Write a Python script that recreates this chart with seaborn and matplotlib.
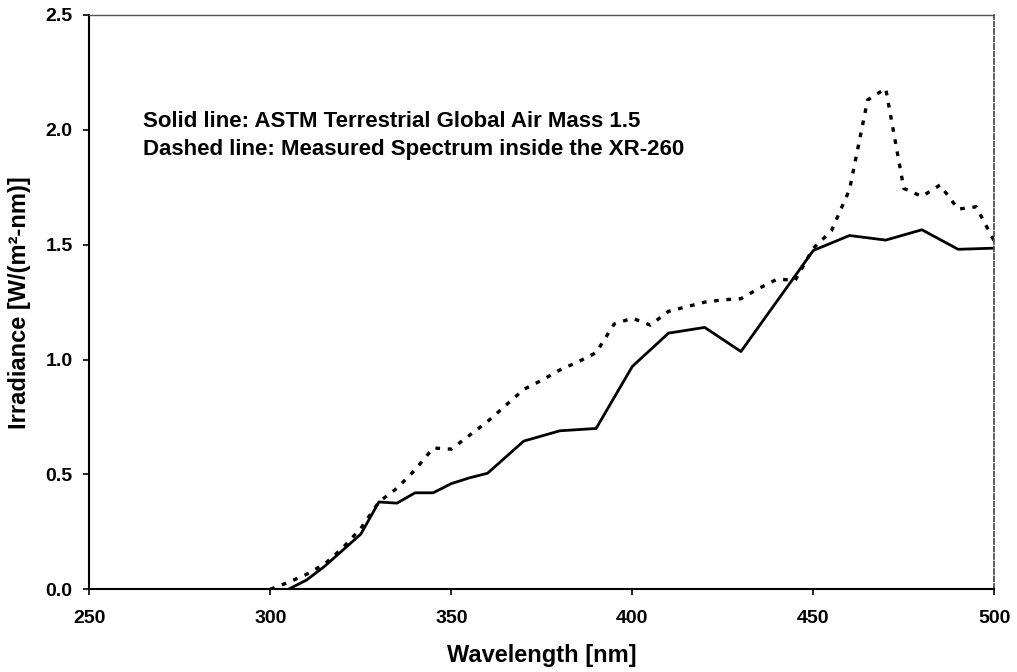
import numpy as np
import pandas as pd
import matplotlib
matplotlib.use("Agg")
import matplotlib.pyplot as plt
import seaborn as sns

# ASTM Terrestrial Global Air Mass 1.5 (solid)
astm_wl = [305, 310, 315, 320, 325, 330, 335, 340, 345, 350, 355, 360, 370, 380,
           390, 400, 410, 420, 430, 450, 460, 470, 480, 490, 500]
astm_val = [0.0, 0.04, 0.10, 0.17, 0.24, 0.38, 0.375, 0.42, 0.42, 0.46, 0.485, 0.505,
            0.645, 0.69, 0.70, 0.97, 1.115, 1.14, 1.035, 1.475, 1.54, 1.52, 1.565,
            1.48, 1.485]

# Measured spectrum inside the XR-260 (dashed)
meas_wl = [300, 305, 310, 315, 320, 325, 330, 335, 340, 345, 350, 355, 360, 365,
           370, 375, 380, 385, 390, 395, 400, 405, 410, 415, 420, 425, 430, 435,
           440, 445, 450, 455, 460, 465, 470, 475, 480, 485, 490, 495, 500]
meas_val = [0.0, 0.03, 0.065, 0.11, 0.18, 0.265, 0.38, 0.44, 0.52, 0.615, 0.61,
            0.67, 0.73, 0.80, 0.87, 0.91, 0.955, 0.99, 1.03, 1.155, 1.18, 1.15,
            1.21, 1.23, 1.25, 1.26, 1.265, 1.31, 1.35, 1.345, 1.485, 1.56, 1.74,
            2.13, 2.18, 1.745, 1.71, 1.76, 1.655, 1.665, 1.515]

x_ticks = [250, 300, 350, 400, 450, 500]
y_ticks = [0.0, 0.5, 1.0, 1.5, 2.0, 2.5]
y_ticklabels = ["0.0", "0.5", "1.0", "1.5", "2.0", "2.5"]

sns.set_style("ticks")
plt.rcParams['font.family'] = ['Liberation Sans', 'DejaVu Sans']
plt.rcParams['font.weight'] = 'bold'
plt.rcParams['text.color'] = 'black'
plt.rcParams['axes.labelcolor'] = 'black'
plt.rcParams['xtick.color'] = 'black'
plt.rcParams['ytick.color'] = 'black'

fig = plt.figure(figsize=(10.17, 6.72), dpi=100)
ax = fig.add_axes([0.0878, 0.1231, 0.8899, 0.8546])

df_astm = pd.DataFrame({"wl": astm_wl, "val": astm_val})
df_meas = pd.DataFrame({"wl": meas_wl, "val": meas_val})

sns.lineplot(data=df_astm, x="wl", y="val", ax=ax, color="black", linewidth=2.0)
sns.lineplot(data=df_meas, x="wl", y="val", ax=ax, color="black", linewidth=2.4,
             linestyle=(0, (1.4, 2.3)))

ax.set_xlim(250, 500)
ax.set_ylim(0, 2.5)
ax.set_xticks(x_ticks)
ax.set_xticklabels([str(t) for t in x_ticks])
ax.set_yticks(y_ticks)
ax.set_yticklabels(y_ticklabels)
ax.tick_params(axis='both', direction='out', length=4, width=1.2, labelsize=14,
               colors='black')
ax.tick_params(axis='x', pad=11)
ax.tick_params(axis='y', pad=8)
for lab in ax.get_xticklabels() + ax.get_yticklabels():
    lab.set_fontweight('bold')

ax.set_xlabel("Wavelength [nm]", fontsize=17, fontweight='bold', labelpad=12,
              color='black')
ax.set_ylabel("Irradiance [W/(m²-nm)]", fontsize=17, fontweight='bold', labelpad=10,
              color='black')

for side in ['left', 'bottom']:
    ax.spines[side].set_color('black')
    ax.spines[side].set_linewidth(1.5)
ax.spines['top'].set_visible(True)
ax.spines['top'].set_color('#555555')
ax.spines['top'].set_linewidth(1.0)
ax.spines['right'].set_visible(True)
ax.spines['right'].set_color('#444444')
ax.spines['right'].set_linewidth(1.2)
ax.spines['right'].set_linestyle((0, (3, 1.5)))

ax.text(0.059, 0.8137, "Solid line: ASTM Terrestrial Global Air Mass 1.5",
        transform=ax.transAxes, fontsize=16, fontweight='bold', va='center',
        color='black')
ax.text(0.059, 0.765, "Dashed line: Measured Spectrum inside the XR-260",
        transform=ax.transAxes, fontsize=16, fontweight='bold', va='center',
        color='black')

fig.savefig("out.png", dpi=100)
